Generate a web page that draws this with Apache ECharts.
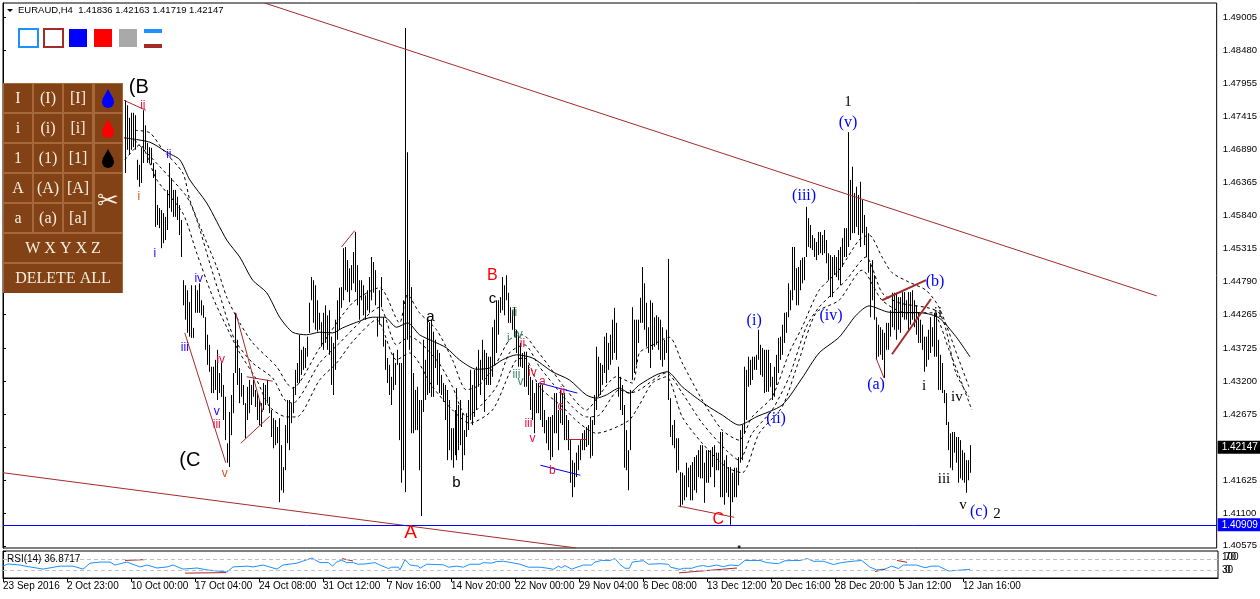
<!DOCTYPE html>
<html><head><meta charset="utf-8">
<style>html,body{margin:0;padding:0;background:#fff}#c{width:1260px;height:599px}</style>
<script src="https://cdn.jsdelivr.net/npm/echarts@6/dist/echarts.min.js"></script>
</head><body><div id="c"></div>
<script>
// H4 bars: first drawn bar number, then high and low of each bar
const firstBar = 61;
const highs = [
1.4768,1.4760,1.4740,1.4748,1.4748,1.4744,1.4673,1.4665,1.4693,1.4752,
1.4728,1.4700,1.4693,1.4692,1.4668,1.4657,1.4601,1.4596,1.4593,1.4588,
1.4582,1.4625,1.4668,1.4644,1.4625,1.4625,1.4614,1.4601,1.4577,1.4481,
1.4473,1.4465,1.4446,1.4473,1.4405,1.4473,1.4465,1.4476,1.4449,1.4441,
1.4422,1.4394,1.4378,1.4343,1.4343,1.4354,1.4370,1.4333,1.4349,1.4314,
1.4295,1.4221,1.4271,1.4298,1.4333,1.4429,1.4386,1.4341,1.4333,1.4314,
1.4285,1.4311,1.4322,1.4314,1.4322,1.4306,1.4301,1.4290,1.4285,1.4317,
1.4314,1.4322,1.4295,1.4274,1.4261,1.4258,1.4247,1.4261,1.4218,1.4183,
1.4250,1.4290,1.4290,1.4285,1.4311,1.4338,1.4349,1.4394,1.4370,1.4375,
1.4373,1.4391,1.4445,1.4486,1.4481,1.4473,1.4449,1.4429,1.4414,1.4429,
1.4441,1.4425,1.4433,1.4391,1.4381,1.4418,1.4449,1.4469,1.4470,1.4532,
1.4534,1.4513,1.4500,1.4505,1.4526,1.4558,1.4505,1.4481,1.4481,1.4473,
1.4457,1.4465,1.4486,1.4518,1.4510,1.4497,1.4422,1.4465,1.4486,1.4422,
1.4386,1.4357,1.4346,1.4327,1.4365,1.4349,1.4370,1.4349,1.4349,1.4449,
1.4883,1.4685,1.4513,1.4470,1.4333,1.4306,1.4311,1.4290,1.4290,1.4386,
1.4354,1.4418,1.4414,1.4418,1.4399,1.4386,1.4370,1.4365,1.4330,1.4317,
1.4314,1.4306,1.4290,1.4245,1.4245,1.4274,1.4309,1.4282,1.4290,1.4269,
1.4242,1.4269,1.4290,1.4338,1.4314,1.4338,1.4343,1.4370,1.4354,1.4386,
1.4370,1.4365,1.4359,1.4359,1.4406,1.4418,1.4449,1.4449,1.4454,1.4486,
1.4473,1.4489,1.4461,1.4438,1.4433,1.4438,1.4402,1.4397,1.4381,1.4365,
1.4367,1.4367,1.4346,1.4327,1.4322,1.4301,1.4317,1.4317,1.4314,1.4314,
1.4274,1.4258,1.4263,1.4263,1.4266,1.4301,1.4301,1.4274,1.4306,1.4301,
1.4301,1.4266,1.4258,1.4226,1.4194,1.4190,1.4206,1.4218,1.4226,1.4237,
1.4242,1.4247,1.4250,1.4263,1.4258,1.4298,1.4375,1.4359,1.4349,1.4346,1.4391,
1.4397,1.4381,1.4394,1.4418,1.4437,1.4413,1.4343,1.4327,1.4314,1.4282,
1.4242,1.4210,1.4306,1.4438,1.4418,1.4418,1.4418,1.4453,1.4502,1.4476,
1.4445,1.4406,1.4449,1.4445,1.4422,1.4425,1.4422,1.4418,1.4406,1.4386,
1.4402,1.4515,1.4293,1.4250,1.4258,1.4229,1.4229,1.4175,1.4174,1.4170,
1.4190,1.4182,1.4186,1.4191,1.4199,1.4202,1.4210,1.4218,1.4218,1.4190,
1.4210,1.4210,1.4210,1.4215,1.4218,1.4206,1.4206,1.4239,1.4239,1.4194,
1.4202,1.4183,1.4183,1.4174,1.4182,1.4182,1.4199,1.4242,1.4250,1.4343,
1.4338,1.4359,1.4354,1.4359,1.4359,1.4362,1.4402,1.4378,1.4373,1.4370,
1.4370,1.4370,1.4349,1.4327,1.4343,1.4362,1.4389,1.4391,1.4410,1.4429,
1.4430,1.4476,1.4465,1.4534,1.4534,1.4500,1.4502,1.4513,1.4517,1.4518,
1.4598,1.4580,1.4569,1.4553,1.4548,1.4542,1.4558,1.4558,1.4553,1.4561,
1.4545,1.4524,1.4521,1.4518,1.4521,1.4518,1.4529,1.4534,1.4548,1.4564,
1.4564,1.4717,1.4641,1.4662,1.4620,1.4630,1.4617,1.4638,1.4609,1.4585,
1.4566,1.4556,1.4508,1.4513,1.4489,1.4422,1.4410,1.4406,1.4402,1.4397,
1.4413,1.4413,1.4433,1.4461,1.4461,1.4461,1.4454,1.4454,1.4462,1.4462,
1.4449,1.4462,1.4462,1.4465,1.4449,1.4441,1.4429,1.4418,1.4410,1.4391,
1.4391,1.4402,1.4422,1.4406,1.4429,1.4429,1.4386,1.4362,1.4349,1.4306,
1.4301,1.4255,1.4237,1.4239,1.4239,1.4231,1.4231,1.4226,1.4210,1.4206,
1.4194,1.4194,1.4218];
const lows = [
1.4652,1.4689,1.4681,1.4689,1.4693,1.4689,1.4641,1.4630,1.4636,1.4668,
1.4689,1.4668,1.4668,1.4665,1.4644,1.4566,1.4569,1.4564,1.4532,1.4540,
1.4545,1.4561,1.4596,1.4590,1.4582,1.4582,1.4577,1.4553,1.4518,1.4441,
1.4418,1.4397,1.4391,1.4389,1.4389,1.4429,1.4429,1.4429,1.4425,1.4421,
1.4370,1.4346,1.4335,1.4301,1.4301,1.4306,1.4290,1.4301,1.4295,1.4258,
1.4226,1.4190,1.4183,1.4234,1.4269,1.4333,1.4314,1.4285,1.4295,1.4282,
1.4229,1.4258,1.4269,1.4282,1.4295,1.4279,1.4258,1.4250,1.4247,1.4274,
1.4282,1.4285,1.4269,1.4231,1.4213,1.4218,1.4221,1.4127,1.4146,1.4142,
1.4178,1.4221,1.4210,1.4253,1.4269,1.4298,1.4317,1.4317,1.4330,1.4338,
1.4341,1.4359,1.4397,1.4449,1.4413,1.4402,1.4399,1.4402,1.4375,1.4370,
1.4381,1.4370,1.4362,1.4314,1.4298,1.4338,1.4386,1.4402,1.4437,1.4449,
1.4465,1.4462,1.4446,1.4465,1.4476,1.4462,1.4441,1.4418,1.4449,1.4425,
1.4418,1.4433,1.4429,1.4449,1.4461,1.4441,1.4391,1.4410,1.4438,1.4375,
1.4338,1.4317,1.4298,1.4282,1.4306,1.4314,1.4346,1.4226,1.4158,1.4178,
1.4143,1.4386,1.4370,1.4237,1.4237,1.4242,1.4242,1.4178,1.4105,1.4271,
1.4290,1.4298,1.4301,1.4295,1.4295,1.4341,1.4314,1.4301,1.4298,1.4287,
1.4258,1.4194,1.4210,1.4194,1.4182,1.4202,1.4194,1.4210,1.4218,1.4178,
1.4202,1.4231,1.4242,1.4258,1.4250,1.4263,1.4274,1.4311,1.4298,1.4322,
1.4271,1.4314,1.4314,1.4314,1.4327,1.4346,1.4365,1.4394,1.4429,1.4433,
1.4425,1.4449,1.4413,1.4413,1.4402,1.4391,1.4365,1.4343,1.4343,1.4341,
1.4311,1.4311,1.4298,1.4274,1.4258,1.4237,1.4269,1.4269,1.4258,1.4247,
1.4237,1.4221,1.4210,1.4194,1.4199,1.4237,1.4237,1.4210,1.4253,1.4250,
1.4226,1.4226,1.4210,1.4158,1.4135,1.4151,1.4167,1.4178,1.4194,1.4210,
1.4210,1.4215,1.4218,1.4197,1.4201,1.4250,1.4274,1.4295,1.4298,1.4314,1.4333,
1.4317,1.4338,1.4346,1.4354,1.4365,1.4354,1.4295,1.4274,1.4266,1.4182,
1.4178,1.4146,1.4210,1.4322,1.4333,1.4346,1.4381,1.4413,1.4413,1.4402,
1.4375,1.4365,1.4341,1.4370,1.4375,1.4378,1.4370,1.4354,1.4343,1.4354,
1.4365,1.4290,1.4231,1.4218,1.4213,1.4174,1.4178,1.4119,1.4123,1.4130,
1.4135,1.4151,1.4130,1.4130,1.4146,1.4142,1.4167,1.4165,1.4165,1.4126,
1.4158,1.4158,1.4167,1.4183,1.4151,1.4178,1.4178,1.4135,1.4135,1.4123,
1.4142,1.4135,1.4091,1.4127,1.4135,1.4135,1.4154,1.4190,1.4194,1.4237,
1.4258,1.4311,1.4314,1.4322,1.4338,1.4338,1.4354,1.4330,1.4327,1.4301,
1.4303,1.4303,1.4311,1.4290,1.4295,1.4314,1.4333,1.4354,1.4362,1.4381,
1.4397,1.4422,1.4433,1.4449,1.4465,1.4441,1.4441,1.4465,1.4476,1.4481,
1.4518,1.4534,1.4532,1.4529,1.4518,1.4513,1.4521,1.4524,1.4521,1.4524,
1.4508,1.4481,1.4454,1.4454,1.4489,1.4486,1.4481,1.4473,1.4502,1.4518,
1.4518,1.4534,1.4545,1.4556,1.4556,1.4566,1.4553,1.4534,1.4556,1.4537,
1.4518,1.4493,1.4422,1.4449,1.4418,1.4354,1.4359,1.4362,1.4354,1.4325,
1.4370,1.4370,1.4391,1.4406,1.4402,1.4386,1.4402,1.4397,1.4422,1.4418,
1.4418,1.4402,1.4410,1.4418,1.4406,1.4394,1.4381,1.4381,1.4370,1.4335,
1.4343,1.4354,1.4365,1.4375,1.4359,1.4359,1.4306,1.4306,1.4301,1.4285,
1.4250,1.4210,1.4182,1.4178,1.4206,1.4190,1.4158,1.4165,1.4162,1.4158,
1.4142,1.4162,1.4174];

// Moving averages, read at the listed bar numbers
const slowBars = [60.5,73.5,82,88.5,93.5,102,112,118.5,125,132,138.5,145,152,158.5,165,170,177,185,191,197,202.5,208.5,215,222,228.5,237,243.5,250,257,265,275,283.5,292,297,302,308.5,313.5,318.5,327,332.5,340,352,360,368.5,377,390,400,408.5,418.5,427,433.5,443.5,460,468.5,477,484];
const slowMa = [1.4708,1.4701,1.4685,1.4673,1.4641,1.4604,1.4545,1.4518,1.4481,1.4461,1.4422,1.4398,1.4394,1.4398,1.4397,1.4405,1.4414,1.4422,1.4422,1.4406,1.4413,1.4394,1.4384,1.4373,1.4354,1.4339,1.4341,1.4354,1.4362,1.4357,1.4335,1.4322,1.4298,1.4293,1.4298,1.4309,1.4301,1.4314,1.4330,1.4335,1.4311,1.4282,1.4266,1.4250,1.4263,1.4282,1.4325,1.4365,1.4390,1.4425,1.4440,1.4430,1.4429,1.4421,1.4391,1.4359];
const upperBars = [66,73.5,80,90,93.5,100,107,112,118.5,125,137,142,145,158.5,175,188.5,198.5,202.5,208.5,217,225,232,238.5,247,253.5,260,267,273.5,282,292,298.5,307,315,318.5,323.5,333.5,340,350,360,368.5,375,385,393.5,400,408.5,418.5,428.5,433.5,440,445,453.5,462,468.5,478.5,483.5];
const upperMa = [1.4720,1.4716,1.4689,1.4652,1.4609,1.4556,1.4502,1.4454,1.4413,1.4381,1.4343,1.4317,1.4309,1.4373,1.4445,1.4469,1.4413,1.4458,1.4429,1.4402,1.4354,1.4306,1.4314,1.4349,1.4386,1.4394,1.4370,1.4343,1.4306,1.4274,1.4298,1.4327,1.4317,1.4365,1.4375,1.4390,1.4349,1.4290,1.4242,1.4226,1.4263,1.4295,1.4365,1.4406,1.4465,1.4497,1.4545,1.4553,1.4518,1.4493,1.4478,1.4465,1.4438,1.4354,1.4311];
const middleBars = [66,78.5,92,97,103.5,108.5,116,125,135,141,145,158.5,168.5,180,188.5,197,203.5,217,225,232,237,247,253.5,261,268.5,275,285,292,298.5,308.5,313.5,318.5,332,340,350,362,368.5,375,385,393.5,402,408.5,422,432,440,448.5,468.5,477,483.5];
const middleMa = [1.4704,1.4662,1.4614,1.4577,1.4508,1.4457,1.4386,1.4349,1.4325,1.4290,1.4285,1.4349,1.4381,1.4418,1.4438,1.4378,1.4391,1.4354,1.4311,1.4263,1.4274,1.4311,1.4365,1.4378,1.4343,1.4317,1.4279,1.4263,1.4266,1.4306,1.4301,1.4306,1.4333,1.4301,1.4253,1.4210,1.4194,1.4237,1.4274,1.4327,1.4406,1.4438,1.4481,1.4518,1.4461,1.4445,1.4429,1.4333,1.4295];
const lowerBars = [61,68.5,77,90,97,105,112,118.5,127,133.5,142,147,158.5,167,175,187,197,203.5,215,225,233.5,245,253.5,257,261,268.5,280,288.5,297,303.5,313.5,318.5,325,332,340,350,362,370,378.5,390,398.5,407,418.5,430,440,452,465,473.5,485];
const lowerMa = [1.4673,1.4697,1.4641,1.4588,1.4524,1.4454,1.4406,1.4365,1.4322,1.4279,1.4263,1.4263,1.4322,1.4349,1.4383,1.4418,1.4354,1.4365,1.4311,1.4274,1.4253,1.4274,1.4333,1.4354,1.4357,1.4311,1.4279,1.4253,1.4237,1.4242,1.4258,1.4282,1.4317,1.4327,1.4263,1.4221,1.4183,1.4174,1.4237,1.4279,1.4354,1.4429,1.4449,1.4497,1.4449,1.4429,1.4429,1.4370,1.4274];

// RSI(14)
const rsiBars = [0,2.5,8.5,13.5,20,28.5,35,40,43.5,48.5,53.5,56,62,68.5,72,77,82,85,90,97,102,107,112,115,122,125,130,137,140,147,154.5,158.5,162.7,164.8,166.8,169.3,171.8,175.2,177.2,181,186,188.5,192.7,194.3,197.7,198.5,201,203.5,207.7,208.5,211.8,220.2,222.7,226.8,230.2,233.5,238.5,240.2,244.3,246.8,250.2,253.5,258.5,262.7,268.5,273.5,275.2,277.7,279.3,281,284.3,290.2,294.3,296,299.3,303.5,306,308.5,311,313.2,314.7,317.7,320.2,322.7,323.5,328.5,332.7,333.8,338.5,340.2,344.3,347.7,350.2,352.7,356.8,360.2,363.5,367.7,371,378.5,381.8,387.7,391,398.5,402.2,405.2,410.2,415.2,419.3,423.5,429.3,433.5,436.8,441,444.3,447.7,450.2,456.8,461,464.3,467.7,472.7,478.5,483.5];
const rsiValues = [44,52,48,41,33,44,44,33,55,59,59,48,59,41,48,37,41,48,33,37,30,26,22,41,44,41,48,33,48,55,74,57,57,44,59,66,57,57,51,52,57,48,35,40,40,30,68,48,44,36,51,49,40,44,40,51,51,57,55,61,62,58,51,40,40,35,32,44,38,46,33,48,48,59,65,65,72,50,36,36,59,62,64,51,57,53,51,40,32,36,36,44,46,42,48,42,48,46,65,65,57,53,64,65,72,62,62,50,57,61,65,40,30,33,44,35,48,48,38,44,44,26,29,32];

// Horizontal price levels
const lastPrice = 1.42147, supportPrice = 1.40909;

// Drawn trendlines on the price chart
const trendBarA = [131,0,60.5,91,116.5,122,119,169.5,268.5,269,282.5,338,437,440,445,0];
const trendPriceA = [1.4923,1.4174,1.4768,1.4397,1.4429,1.4327,1.4221,1.4534,1.4317,1.4186,1.4228,1.4121,1.4357,1.4449,1.4363,supportPrice];
const trendBarB = [577.5,287,71.5,111.5,130,135,133.5,176,287.5,289,292,366,441,462,464.5,607.5];
const trendPriceB = [1.4456,1.4054,1.4752,1.4190,1.4271,1.4320,1.4264,1.4560,1.4301,1.4170,1.4228,1.4103,1.4325,1.4481,1.4451,supportPrice];
const trendKinds = ['r','r','r','r','r','r','r','r','b','b','r','r','r','R','R','b'];
// Drawn trendlines on the RSI panel
const rsiTrendBarA = [61,91,169.5,338,436,447];
const rsiTrendValueA = [65,18,72,19,24,65];
const rsiTrendBarB = [71,111.5,175,367,441,452];
const rsiTrendValueB = [68,20,63,37,32,58];

// Elliott wave annotations
const labelBars = [68,70,68,83,76,98,91,109,107,107,111,93.5,214,245,245,227,204,256,253,258,260,257,259,265,270,280,279,263,265,275,358,376,387,401,414.5,423,423,437,466.5,461,468,477.5,471,480.5,488.5,497.5];
const labelPrices = [1.4789,1.4760,1.4614,1.4681,1.4523,1.4483,1.4373,1.4355,1.4271,1.4250,1.4172,1.4193,1.4422,1.4451,1.4489,1.4158,1.4079,1.4430,1.4387,1.4394,1.4379,1.4330,1.4319,1.4333,1.4319,1.4303,1.4280,1.4253,1.4228,1.4178,1.4099,1.4416,1.4260,1.4615,1.4425,1.4732,1.4765,1.4314,1.4478,1.4312,1.4429,1.4295,1.4164,1.4123,1.4111,1.4108];
const labelTexts = ['(B','ii','i','ii','i','iv','iii','iv','v','iii','v','(C','a','c','B','b','A','ii','i','iv','ii','iii','v','iv','a','ii','c','iii','v','b','C','(i)','(ii)','(iii)','(iv)','(v)','1','(a)','(b)','i','ii','iv','iii','v','(c)','2'];
const labelKinds = ['big','sR','sO','sB','sB','sB','sB','sR','sB','sR','sO','big','mK','mK','mR','mK','lR','sT','sT','sT','sR','sT','sT','sR','sR','sR','sR','sR','sR','sR','mR','wB','wB','wB','wB','wB','wK','wB','wB','wK','wK','wK','wK','wK','wB','wK'];

// Axis text
const priceTicks = [1.49005,1.48480,1.47955,1.47415,1.46890,1.46365,1.45840,1.45315,1.44790,1.44265,1.43725,1.43200,1.42675,1.41625,1.41100,1.40575];
const timeLabels = ['23 Sep 2016','2 Oct 23:00','10 Oct 00:00','17 Oct 04:00','24 Oct 08:00','31 Oct 12:00','7 Nov 16:00','14 Nov 20:00','22 Nov 00:00','29 Nov 04:00','6 Dec 08:00','13 Dec 12:00','20 Dec 16:00','28 Dec 20:00','5 Jan 12:00','12 Jan 16:00'];
const header = 'EURAUD,H4  1.41836 1.42163 1.41719 1.42147';
const rsiCaption = 'RSI(14) 36.8717';
const buttonRows = [['I','(I)','[I]'],['i','(i)','[i]'],['1','(1)','[1]'],['A','(A)','[A]'],['a','(a)','[a]']];
const wideButtons = ['W X Y X Z','DELETE ALL'];

const SANS='"Liberation Sans",Arial,sans-serif', SERIF='"Liberation Serif",serif';
const BROWN='#a52a2a', DODGER='#1e90ff';
const kindStyle = {
  big:{fill:'#000',font:'20px '+SANS}, mK:{fill:'#000',font:'15px '+SANS}, mR:{fill:'#f00',font:'16px '+SANS},
  lR:{fill:'#f00',font:'19px '+SANS}, sR:{fill:'#f0103c',font:'12px '+SANS}, sB:{fill:'#2a00ff',font:'12px '+SANS},
  sO:{fill:'#d8501c',font:'12px '+SANS}, sT:{fill:'#3c8c64',font:'12px '+SANS},
  wB:{fill:'#0000ff',font:'16px '+SERIF}, wK:{fill:'#000',font:'15px '+SERIF}
};

function range(bars, vals){ return bars.map((b,i)=>[b,vals[i]]); }
const barData = highs.map((h,i)=>[firstBar+i,h,lows[i]]);
const trendData = trendBarA.map((b,i)=>[b,trendPriceA[i],trendBarB[i],trendPriceB[i]]);
const rsiTrendData = rsiTrendBarA.map((b,i)=>[b,rsiTrendValueA[i],rsiTrendBarB[i],rsiTrendValueB[i]]);
const labelData = labelBars.map((b,i)=>[b,labelPrices[i],labelTexts[i],labelKinds[i]]);
const timeTicks = timeLabels.map((t,i)=>i*32);

function segment(color, kinds){
  return function(p,api){
    const a=api.coord([api.value(0),api.value(1)]), b=api.coord([api.value(2),api.value(3)]);
    const k=kinds?kinds[p.dataIndex]:'r';
    const flat=a[1]===b[1];
    return {type:'line',shape:{x1:a[0],y1:flat?Math.round(a[1])+0.5:a[1],x2:b[0],y2:flat?Math.round(b[1])+0.5:b[1]},
      style:{stroke:k==='b'?'#0000ff':color,lineWidth:k==='R'?2:1,fill:null}};
  };
}
function maSeries(name,bars,vals,dash){
  return {name,type:'line',data:range(bars,vals),symbol:'none',smooth:0.25,silent:true,z:3,
    lineStyle:{color:'#000',width:1,type:dash?[3,3]:'solid'}};
}
function tagLine(price,color){
  return {silent:true,symbol:'none',animation:false,precision:5,
    lineStyle:{color:'rgba(0,0,0,0)',width:1,type:'solid'},
    data:[{yAxis:price,lineStyle:{color:'rgba(0,0,0,0)',width:1,type:'solid'},
      label:{show:true,position:'end',distance:1,formatter:price.toFixed(5),color:'#fff',backgroundColor:color,
        padding:[2,5,1,4],fontFamily:SANS,fontSize:10}}]};
}

const series = [
 {name:'bars',type:'custom',data:barData,clip:true,z:2,silent:true,encode:{x:0,y:[1,2]},
  renderItem(p,api){
    const a=api.coord([api.value(0),api.value(1)]), b=api.coord([api.value(0),api.value(2)]);
    const x=Math.round(a[0])+0.5;
    return {type:'line',shape:{x1:x,y1:a[1],x2:x,y2:b[1]},style:{stroke:'#000',lineWidth:1}};
  }},
 maSeries('slow',slowBars,slowMa,false),
 maSeries('upper',upperBars,upperMa,true),
 maSeries('middle',middleBars,middleMa,true),
 maSeries('lower',lowerBars,lowerMa,true),
 {name:'trend',type:'custom',data:trendData,clip:true,z:4,silent:true,encode:{x:[0,2],y:[1,3]},renderItem:segment(BROWN,trendKinds)},
 {name:'labels',type:'custom',data:labelData,z:5,silent:true,encode:{x:0,y:1},
  renderItem(p,api){
    const c=api.coord([api.value(0),api.value(1)]);
    const d=labelData[p.dataIndex], s=kindStyle[d[3]];
    return {type:'text',x:c[0],y:c[1],style:{text:d[2],fill:s.fill,font:s.font,align:'center',verticalAlign:'middle'}};
  }},
 {name:'dot',type:'scatter',data:[[368.5,1.4056]],symbolSize:3,itemStyle:{color:'#000'},silent:true},
 {name:'last',type:'line',data:[],markLine:tagLine(lastPrice,'#000')},
 {name:'support',type:'line',data:[],z:6,markLine:tagLine(supportPrice,'#0000ff')},
 {name:'rsi',type:'line',xAxisIndex:1,yAxisIndex:1,data:range(rsiBars,rsiValues),symbol:'none',silent:true,z:3,
  lineStyle:{color:DODGER,width:1},
  markLine:{silent:true,symbol:'none',animation:false,label:{show:false},
    lineStyle:{color:'#c0c0c0',type:[4,3],width:1},data:[{yAxis:70},{yAxis:30}]}},
 {name:'rsiTrend',type:'custom',xAxisIndex:1,yAxisIndex:1,data:rsiTrendData,clip:true,z:4,silent:true,encode:{x:[0,2],y:[1,3]},renderItem:segment(BROWN)}
];

// Toolbar and swatches
const g=[];
function rect(x,y,w,h,fill,stroke,lw){g.push({type:'rect',shape:{x,y,width:w,height:h},style:{fill:fill||'none',stroke:stroke||null,lineWidth:lw||0},z:50,silent:true});}
function text(x,y,t,fill,font,align){g.push({type:'text',x,y,style:{text:t,fill,font,align:align||'center',verticalAlign:'middle'},z:51,silent:true});}
const PANEL='#a4683a', FACE='#834216', INK='#f6efe0';
text(18,10.5,header,'#000','9.5px '+SANS,'left');
g.push({type:'polygon',shape:{points:[[7,9],[13,9],[10,12]]},style:{fill:'#000'},z:51,silent:true});
rect(19,29,19,18,'#fff',DODGER,2); rect(44,29,19,18,'#fff',BROWN,2);
rect(69,29,18,18,'#0000ff'); rect(94,29,18,18,'#ff0000'); rect(119,29,18,18,'#a9a9a9');
rect(144,29,18,4,DODGER); rect(144,44,18,4,BROWN);
rect(3,83,120,210,PANEL);
const colX=[4,34,64], rowY=[84,114,144,174,204];
buttonRows.forEach((row,r)=>row.forEach((t,c)=>{
  rect(colX[c],rowY[r],28,28,FACE);
  text(colX[c]+14,rowY[r]+15,t,INK,'16px '+SERIF);
}));
[84,114,144].forEach(y=>rect(95,y,27,28,FACE));
rect(95,174,27,58,FACE);
['#0000ff','#ff0000','#000000'].forEach((col,i)=>{
  const cy=102+30*i;
  g.push({type:'circle',shape:{cx:108,cy,r:6},style:{fill:col},z:51,silent:true});
  g.push({type:'polygon',shape:{points:[[108,cy-13],[113.5,cy-3],[102.5,cy-3]]},style:{fill:col},z:51,silent:true});
});
text(108,202,'\u2702',INK,'26px "DejaVu Sans"');
wideButtons.forEach((t,i)=>{rect(4,234+30*i,118,28+(i?1:0),FACE);text(63,249+30*i,t,INK,'16px '+SERIF);});
text(7,559.5,rsiCaption,'#000','10px '+SANS,'left');
[['100',1222,557],['70',1225,557],['30',1222,570.5],['0',1225,570.5]].forEach(a=>text(a[1],a[2],a[0],'#000','10px '+SANS,'left'));

const chart=echarts.init(document.getElementById('c'),null,{renderer:'canvas'});
chart.setOption({
 animation:false,backgroundColor:'#fff',
 grid:[
  {left:3,right:42,top:3,bottom:51,show:true,backgroundColor:'#fff',borderColor:'#000',borderWidth:1},
  {left:3,right:42,top:551,height:27,show:true,backgroundColor:'#fff',borderColor:'#000',borderWidth:1}],
 xAxis:[
  {type:'value',gridIndex:0,min:0,max:607.5,show:false,splitLine:{show:false}},
  {type:'value',gridIndex:1,min:0,max:607.5,splitLine:{show:false},
   axisLine:{show:true,onZero:false,lineStyle:{color:'#000'}},
   axisTick:{length:4,customValues:timeTicks,lineStyle:{color:'#000'}},
   axisLabel:{customValues:timeTicks,align:'left',margin:3,color:'#000',fontFamily:SANS,fontSize:10,hideOverlap:false,
     formatter:v=>timeLabels[Math.round(v/32)]||''}}],
 yAxis:[
  {type:'value',gridIndex:0,position:'right',min:1.4054,max:1.4923,splitLine:{show:false},
   axisLine:{show:true,lineStyle:{color:'#000'}},
   axisTick:{show:true,length:3,customValues:priceTicks.concat([1.4215]),lineStyle:{color:'#000'}},
   axisLabel:{customValues:priceTicks,margin:6,color:'#000',fontFamily:SANS,fontSize:9.5,formatter:v=>v.toFixed(5)}},
  {type:'value',gridIndex:1,position:'right',min:0,max:100,splitLine:{show:false},
   axisLine:{show:true,lineStyle:{color:'#000'}},
   axisTick:{show:true,length:3,customValues:[70,30,100,0],lineStyle:{color:'#000'}},
   axisLabel:{show:false}}],
 series,graphic:{elements:g}
});
</script></body></html>
